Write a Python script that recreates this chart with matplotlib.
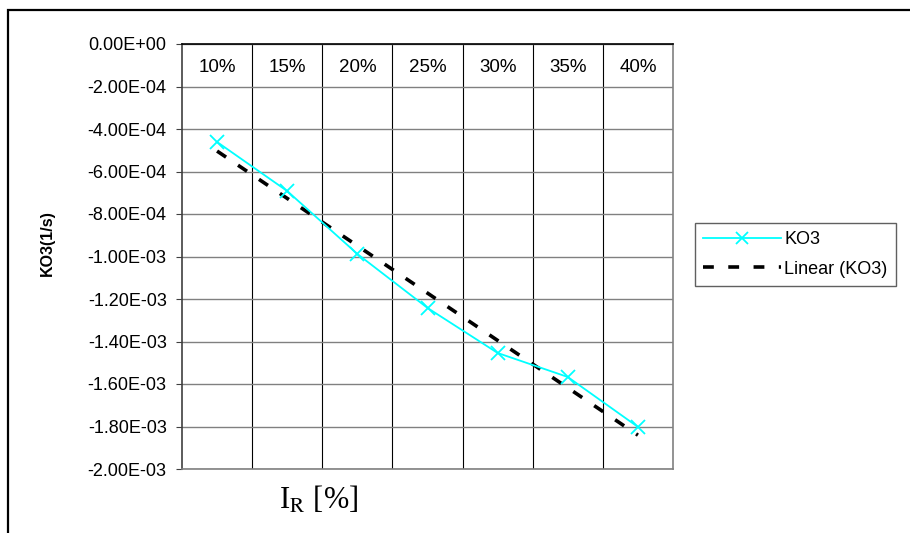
import numpy as np
import matplotlib
matplotlib.use("Agg")
import matplotlib.pyplot as plt
from matplotlib.patches import Rectangle
from matplotlib.ticker import FuncFormatter, MultipleLocator, FixedLocator

plt.rcParams["font.family"] = ["Liberation Sans", "DejaVu Sans"]
plt.rcParams["mathtext.fontset"] = "stix"

# category labels (reduction in I_R) and measured KO3 values
categories = ["10%", "15%", "20%", "25%", "30%", "35%", "40%"]
ko3 = [-4.61e-4, -6.92e-4, -9.88e-4, -1.242e-3, -1.454e-3, -1.567e-3, -1.802e-3]

x = np.arange(len(categories))
y = np.array(ko3)

# Excel-style linear trendline through the series
slope, intercept = np.polyfit(x, y, 1)
trend = slope * x + intercept

fig = plt.figure(figsize=(9.1, 5.33), dpi=100)
ax = fig.add_axes([182 / 910, 1 - 469 / 533, 491 / 910, 425 / 533])

# outer chart frame (cropped on right/bottom like the source)
fig.patches.append(Rectangle((8 / 910, -0.2), 1.2, 1.2 - 10 / 533,
                             transform=fig.transFigure, fill=False,
                             edgecolor="black", linewidth=1.6))

ax.plot(x, y, color="#00FFFF", linewidth=1.3, marker="x", markersize=10,
        markeredgewidth=1.3, label="KO3", zorder=3)
ax.plot(x, trend, color="black", linewidth=2.6, dashes=(3, 4),
        label="Linear (KO3)", zorder=2)

ax.set_xlim(-0.5, len(categories) - 0.5)
ax.set_ylim(-2.0e-3, 0.0)

ax.yaxis.set_major_locator(MultipleLocator(2e-4))
ax.yaxis.set_major_formatter(FuncFormatter(lambda v, _: "{:.2E}".format(0.0 if abs(v) < 1e-12 else v)))
ax.tick_params(axis="y", labelsize=13, length=4, width=0.8, pad=7, color="#404040")
ax.grid(axis="y", color="#808080", linewidth=1.0)

ax.set_xticks(x)
ax.set_xticklabels(categories)
ax.xaxis.tick_top()
ax.tick_params(axis="x", which="major", length=0, labelsize=13.5, pad=-23)
ax.xaxis.set_minor_locator(FixedLocator(x[:-1] + 0.5))
ax.tick_params(axis="x", which="minor", length=0)
ax.grid(axis="x", which="minor", color="black", linewidth=0.8)
ax.set_axisbelow(True)

for side, col in [("top", "black"), ("left", "#404040"), ("right", "#808080"), ("bottom", "#808080")]:
    ax.spines[side].set_color(col)
    ax.spines[side].set_linewidth(1.2)

ax.set_ylabel("KO3(1/s)", fontsize=11.5, fontweight="bold")
ax.yaxis.set_label_coords((47 - 182) / 491, (469 - 243) / 425)
ax.yaxis.label.set_ha("center")
ax.yaxis.label.set_va("center")

ax.xaxis.set_label_position("bottom")
ax.set_xlabel(r"I$_\mathrm{R}$ [%]", fontsize=22, family="Liberation Serif")
ax.xaxis.set_label_coords((319 - 182) / 491, (469 - 500) / 425)
ax.xaxis.label.set_va("center")

leg = fig.legend(loc="upper left", bbox_to_anchor=(695 / 910, 1 - 223 / 533),
                 fontsize=13, handlelength=4.3, handletextpad=0.2,
                 borderpad=0.45, labelspacing=0.7, borderaxespad=0,
                 fancybox=False, framealpha=1, edgecolor="#606060")
leg.get_frame().set_linewidth(1.0)
leg.legend_handles[0].set_markersize(8)

fig.savefig("out.png", dpi=100)
